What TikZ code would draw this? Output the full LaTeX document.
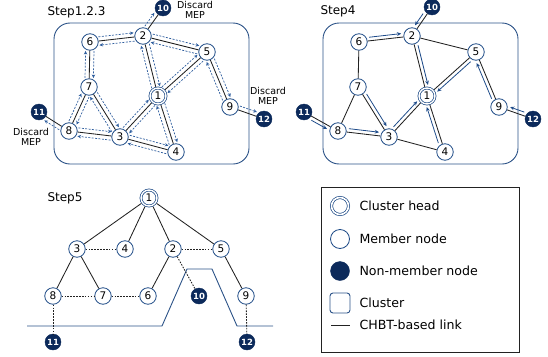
\documentclass[tikz,border=0pt]{standalone}
\usepackage{fontspec}
\setmainfont{DejaVu Sans}
\usetikzlibrary{calc,arrows.meta}

\definecolor{navy}{HTML}{0C2A5B}
\definecolor{ringblue}{HTML}{1D4A86}
\definecolor{rectblue}{HTML}{2B5287}
\definecolor{msgblue}{HTML}{2F5E9E}
\definecolor{treeblue}{HTML}{1F4C8A}
\definecolor{linkgray}{HTML}{222222}

\tikzset{
  member/.style={circle, draw=ringblue, line width=0.8pt, fill=white,
    minimum size=16.5pt, inner sep=0pt, font=\fontsize{10.5}{10.5}\selectfont},
  head/.style={circle, draw=ringblue, line width=0.7pt, double=white,
    double distance=1.4pt, fill=white, minimum size=16pt, inner sep=0pt,
    outer sep=1.4pt, font=\fontsize{10.5}{10.5}\selectfont},
  outsider/.style={circle, fill=navy, draw=navy, minimum size=16pt,
    inner sep=0pt, text=white, font=\bfseries\fontsize{8.5}{8.5}\selectfont},
  link/.style={draw=linkgray, line width=0.85pt},
  dotlink/.style={link, dash pattern=on 1.6pt off 1.3pt},
  msgarrow/.style={draw=msgblue, line width=0.7pt, dash pattern=on 2pt off 1.4pt,
    -{Stealth[length=3.6pt,width=3.4pt]}, shorten <=9pt, shorten >=9pt},
  treearrow/.style={draw=treeblue, line width=0.8pt,
    -{Stealth[length=4.2pt,width=3.8pt]}, shorten <=10.5pt, shorten >=10.5pt},
  cluster/.style={draw=rectblue, line width=0.9pt, rounded corners=16pt},
  title/.style={anchor=west, font=\fontsize{12}{12}\selectfont},
  note/.style={align=center, font=\fontsize{9.5}{10.5}\selectfont},
  legtext/.style={anchor=west, font=\fontsize{12.6}{12.6}\selectfont},
}

% arrow drawn beside the line from #3 to #4, offset by #2 to its left
\newcommand\sidearrow[4]{%
  \draw[#1] ($(#3)!#2!90:(#4)$) -- ($(#4)!#2!-90:(#3)$);}
% a pair of opposite dashed messages along one link
\newcommand\msgpair[2]{%
  \sidearrow{msgarrow}{4.2pt}{#1}{#2}%
  \sidearrow{msgarrow}{4.2pt}{#2}{#1}}

% cluster frame with its nine member nodes, names prefixed by #1
\newcommand\placenet[1]{%
  \draw[cluster] (54,23) rectangle (249,164);
  \node[head]   (#11) at (158,96)  {1};
  \node[member] (#12) at (143,36)  {2};
  \node[member] (#13) at (120,137) {3};
  \node[member] (#14) at (176,152) {4};
  \node[member] (#15) at (207,52)  {5};
  \node[member] (#16) at (90,42)   {6};
  \node[member] (#17) at (89,87)   {7};
  \node[member] (#18) at (69,131)  {8};
  \node[member] (#19) at (230,107) {9};
}

\begin{document}
\begin{tikzpicture}[x=1pt, y=-1pt]
\useasboundingbox (0,0) rectangle (548,356);

% ---------------- Step 1.2.3 ----------------
\begin{scope}
  \node[title] (t1) at (44,12) {Step1.2.3};
  \placenet{a}
  \node[outsider] (a10) at (163,8)   {10};
  \node[outsider] (a11) at (39,112)  {11};
  \node[outsider] (a12) at (264,119) {12};
  \foreach \u/\v in {6/2,2/5,2/1,6/7,7/8,7/3,8/3,3/1,3/4,1/5,1/4,5/9,9/12,8/11,2/10}
    \draw[link] (a\u) -- (a\v);
  \foreach \u/\v in {6/2,2/5,2/1,6/7,7/8,7/3,8/3,3/1,3/4,1/5,1/4,5/9}
    \msgpair{a\u}{a\v};
  \sidearrow{msgarrow}{4.2pt}{a2}{a10}
  \sidearrow{msgarrow}{4.2pt}{a8}{a11}
  \sidearrow{msgarrow}{4.2pt}{a9}{a12}
  \node[note] (d10) at (195,10)  {Discard\\MEP};
  \node[note] (d12) at (268,96)  {Discard\\MEP};
  \node[note] (d11) at (31,137)  {Discard\\MEP};
\end{scope}

% ---------------- Step 4 ----------------
\begin{scope}[xshift=269pt]
  \node[title] (t4) at (48,11) {Step4};
  \placenet{b}
  \node[outsider] (b10) at (163,7)   {10};
  \node[outsider] (b11) at (35,112)  {11};
  \node[outsider] (b12) at (264,119) {12};
  \foreach \u/\v in {6/2,2/5,2/1,6/7,7/8,7/3,8/3,3/1,3/4,1/5,1/4,5/9,9/12,8/11,2/10}
    \draw[link] (b\u) -- (b\v);
  \foreach \u/\v in {6/2,2/1,5/1,9/5,4/1,3/1,7/3,8/3}
    \sidearrow{treearrow}{3.6pt}{b\u}{b\v};
  \foreach \u/\v in {10/2,11/8,12/9}
    \sidearrow{treearrow}{-3.6pt}{b\u}{b\v};
\end{scope}

% ---------------- Step 5 ----------------
\node[title] (t5) at (44,198) {Step5};
\coordinate (w0) at (27,326);
\coordinate (w1) at (162,326);
\coordinate (w2) at (187,269);
\coordinate (w3) at (212,269);
\coordinate (w4) at (237,326);
\coordinate (w5) at (273,326);
\draw[draw=rectblue, line width=0.9pt] (w0) -- (w1) -- (w2) -- (w3) -- (w4) -- (w5);
\node[head]     (c1)  at (149,198) {1};
\node[member]   (c3)  at (77,249)  {3};
\node[member]   (c4)  at (125,249) {4};
\node[member]   (c2)  at (173,249) {2};
\node[member]   (c5)  at (221,249) {5};
\node[member]   (c8)  at (53,296)  {8};
\node[member]   (c7)  at (103,296) {7};
\node[member]   (c6)  at (148,296) {6};
\node[outsider] (c10) at (199,296) {10};
\node[member]   (c9)  at (246,296) {9};
\node[outsider] (c11) at (53,342)  {11};
\node[outsider] (c12) at (247,342) {12};
\foreach \u/\v in {1/3,1/4,1/2,1/5,3/8,3/7,2/6,5/9}
  \draw[link] (c\u) -- (c\v);
\foreach \u/\v in {3/4,2/5,8/7,7/6,2/10,8/11,9/12}
  \draw[dotlink] (c\u) -- (c\v);

% ---------------- Legend ----------------
\draw[draw=linkgray, line width=0.8pt] (321,187) rectangle (519,352);
\node[head, minimum size=17pt, double distance=1.6pt] (lh) at (340,206) {};
\node[member, minimum size=19pt] (lm) at (340,239) {};
\node[outsider, minimum size=19pt] (lo) at (340,271) {};
\node[draw=rectblue, line width=0.9pt, rounded corners=3pt, minimum size=20pt,
  inner sep=0pt] (lc) at (340,303) {};
\coordinate (la) at (331,325);
\coordinate (lb) at (350,325);
\draw[link] (la) -- (lb);
\node[legtext] (lth) at (356,206) {Cluster head};
\node[legtext] (ltm) at (356,239) {Member node};
\node[legtext] (lto) at (356,271) {Non-member node};
\node[legtext] (ltc) at (356,303) {Cluster};
\node[legtext] (ltl) at (356,325) {CHBT-based link};
\end{tikzpicture}
\end{document}
